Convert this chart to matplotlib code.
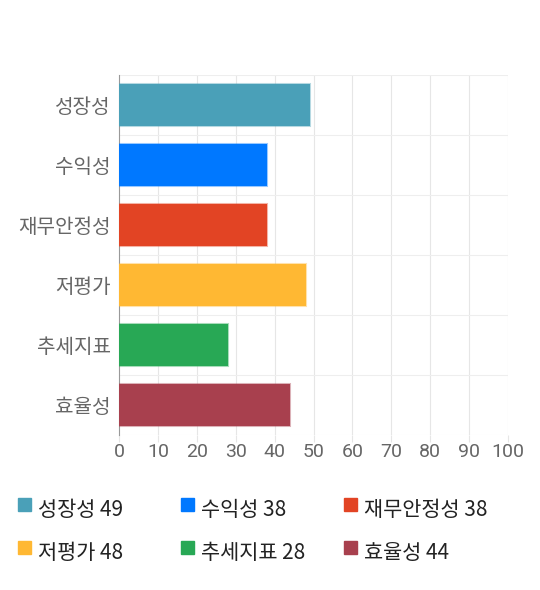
import matplotlib
matplotlib.use("Agg")
import matplotlib.pyplot as plt
from matplotlib.patches import Rectangle

plt.rcParams['font.family'] = ['Noto Sans CJK KR', 'DejaVu Sans']

categories = ["성장성", "수익성", "재무안정성", "저평가", "추세지표", "효율성"]
values = [49, 38, 38, 48, 28, 44]
colors = ["#4aa0b8", "#0078ff", "#e24424", "#ffb833", "#28a855", "#a8404e"]
xticks = list(range(0, 101, 10))

fig = plt.figure(figsize=(5.4, 5.9), dpi=100)
ax = fig.add_axes([0.2204, 0.2627, 0.7204, 0.6102])

ypos = list(range(len(categories)))
ax.barh(ypos, values, height=0.7, color=colors, edgecolor=[c + "66" for c in colors],
        linewidth=1.5, zorder=3)
ax.set_ylim(len(categories) - 0.5, -0.5)
ax.set_xlim(0, 100)
ax.set_yticks(ypos)
ax.set_yticklabels(categories)
ax.set_xticks(xticks)
for lbl in ax.get_xticklabels():
    lbl.set_family(["Roboto", "DejaVu Sans"])

# grid
for x in xticks[1:]:
    ax.axvline(x, color="#e6e6e6", lw=0.8, zorder=1)
for b in [i - 0.5 for i in range(len(categories) + 1)]:
    ax.axhline(b, color="#eeeeee", lw=0.8, zorder=1)

for s in ["top", "right", "bottom"]:
    ax.spines[s].set_visible(False)
ax.spines["left"].set_color("#999999")
ax.spines["left"].set_linewidth(0.8)
ax.tick_params(axis="y", length=0, pad=6, labelsize=14.5, labelcolor="#666666")
ax.tick_params(axis="x", length=5, color="#e6e6e6", pad=1, labelsize=14, labelcolor="#666666")

# legend
cols_x = [18, 181, 344]
rows_y = [516, 559]
for i, (cat, val, c) in enumerate(zip(categories, values, colors)):
    x = cols_x[i % 3] / 540
    y = 1 - rows_y[i // 3] / 590
    fig.patches.append(Rectangle((x, y + 5 / 590), 13 / 540, 13 / 590,
                                 transform=fig.transFigure, color=c))
    fig.text(x + 20 / 540, y, f"{cat} {val}", fontsize=15, color="#222222",
             va="baseline", ha="left")

fig.savefig("out.png", dpi=100)
